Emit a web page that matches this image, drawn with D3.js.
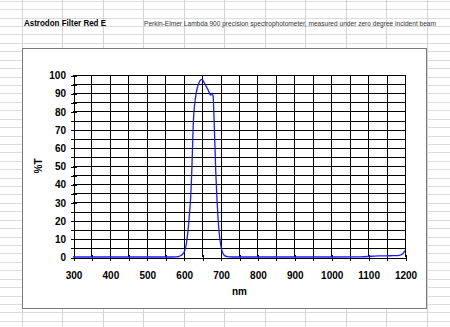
<!DOCTYPE html>
<html>
<head>
<meta charset="utf-8">
<script src="https://cdn.jsdelivr.net/npm/d3@7"></script>
<style>
  body { margin: 0; background: #fff; }
  svg { display: block; }
</style>
</head>
<body>
<svg id="chart"></svg>
<script>
// transmission curve (nm, %T)
var wavelengths = [300, 400, 500, 560, 580, 588, 594, 599, 603, 607, 611, 615, 619, 622, 624, 626, 628, 631, 634, 637, 641, 645, 649, 652, 655, 659, 663, 667, 671, 674, 677, 680, 682, 684, 687, 690, 693, 696, 699, 703, 707, 712, 718, 730, 760, 800, 900, 1000, 1080, 1110, 1130, 1160, 1180, 1188, 1194, 1200];
var transmission = [0, 0, 0, 0, 0.1, 0.4, 1, 2, 3.5, 7, 13, 22, 33, 47, 60, 73, 80, 86, 90, 93, 95.5, 97, 97.6, 97, 96, 94.5, 93, 91.5, 89.5, 89, 90, 88, 78, 66, 47, 33, 22, 14, 8.5, 4, 1.8, 0.6, 0.2, 0, 0, 0, 0, 0, 0.1, 0.4, 0.6, 0.7, 0.8, 1.1, 1.8, 3.5];
var xTicks = [300, 400, 500, 600, 700, 800, 900, 1000, 1100, 1200];
var yTicks = [0, 10, 20, 30, 40, 50, 60, 70, 80, 90, 100];

var title = "Astrodon Filter Red E";
var subtitle = "Perkin-Elmer Lambda 900 precision spectrophotometer, measured under zero degree incident beam";

var W = 450, H = 327;
var svg = d3.select("#chart").attr("width", W).attr("height", H);

// spreadsheet cells behind the chart
var sheet = svg.append("g").attr("shape-rendering", "crispEdges");
sheet.selectAll("line.row")
    .data(d3.range(0.8, H, 8.42))
    .join("line")
    .attr("x1", 0).attr("x2", W)
    .attr("y1", d => Math.round(d) + 0.5).attr("y2", d => Math.round(d) + 0.5)
    .attr("stroke", "#dcdcdc");
sheet.selectAll("line.col")
    .data(d3.range(22, W, 40.45))
    .join("line")
    .attr("y1", 0).attr("y2", H)
    .attr("x1", d => Math.round(d) + 0.5).attr("x2", d => Math.round(d) + 0.5)
    .attr("stroke", "#d4d4d4");

var font = "'Liberation Sans', Arial, sans-serif";

svg.append("text")
    .attr("x", 24).attr("y", 26)
    .attr("font-family", font).attr("font-weight", "bold").attr("font-size", 8.5)
    .attr("fill", "#000")
    .attr("textLength", 82).attr("lengthAdjust", "spacingAndGlyphs")
    .text(title);

svg.append("text")
    .attr("x", 144).attr("y", 26)
    .attr("font-family", font).attr("font-size", 6.6)
    .attr("fill", "#333")
    .attr("textLength", 292).attr("lengthAdjust", "spacingAndGlyphs")
    .text(subtitle);

// chart box
svg.append("rect")
    .attr("x", 22.5).attr("y", 48.5).attr("width", 404).attr("height", 260)
    .attr("fill", "#fff").attr("stroke", "#7a7a7a").attr("stroke-width", 1);

var plot = { left: 73, right: 405, top: 75, bottom: 257 };

var x = d3.scaleLinear().domain([300, 1200]).range([plot.left, plot.right]);
var y = d3.scaleLinear().domain([0, 100]).range([plot.bottom, plot.top]);

var grid = svg.append("g").attr("shape-rendering", "crispEdges");
grid.selectAll("line.v")
    .data(d3.range(350, 1201, 50))
    .join("line")
    .attr("x1", d => Math.round(x(d)) + 0.5).attr("x2", d => Math.round(x(d)) + 0.5)
    .attr("y1", plot.top).attr("y2", plot.bottom)
    .attr("stroke", "#000");
grid.selectAll("line.h")
    .data(d3.range(5, 101, 5))
    .join("line")
    .attr("y1", d => Math.round(y(d)) + 0.5).attr("y2", d => Math.round(y(d)) + 0.5)
    .attr("x1", plot.left).attr("x2", plot.right)
    .attr("stroke", "#000");

// axes with crossing tick marks
var yAxis = svg.append("g")
    .attr("transform", "translate(" + (plot.left + 0.5) + ",0.5)")
    .call(d3.axisLeft(y).tickValues(d3.range(0, 101, 5)).tickSizeInner(3).tickSizeOuter(0).tickPadding(4.5)
        .tickFormat(d => yTicks.includes(d) ? d : ""));
yAxis.selectAll(".tick line").attr("x1", 3);

var xAxis = svg.append("g")
    .attr("transform", "translate(0.5," + (plot.bottom + 0.5) + ")")
    .call(d3.axisBottom(x).tickValues(d3.range(300, 1201, 50)).tickSizeInner(3).tickSizeOuter(0).tickPadding(11)
        .tickFormat(d => xTicks.includes(d) ? d : ""));
xAxis.selectAll(".tick line").attr("y1", -3);

[xAxis, yAxis].forEach(function (a) {
    a.attr("shape-rendering", "crispEdges");
    a.select(".domain").attr("stroke", "#000");
    a.selectAll(".tick line").attr("stroke", "#000");
    a.selectAll("text")
        .attr("font-family", font).attr("font-weight", "bold").attr("font-size", 10)
        .attr("fill", "#000");
});

svg.append("text")
    .attr("x", (plot.left + plot.right) / 2 + 0.5).attr("y", 295)
    .attr("text-anchor", "middle")
    .attr("font-family", font).attr("font-weight", "bold").attr("font-size", 10)
    .text("nm");

svg.append("text")
    .attr("transform", "translate(41.5," + (plot.top + plot.bottom) / 2 + ") rotate(-90)")
    .attr("text-anchor", "middle")
    .attr("font-family", font).attr("font-weight", "bold").attr("font-size", 10)
    .text("%T");

var pts = wavelengths.map((w, i) => [w, transmission[i]]);
var line = d3.line()
    .x(d => x(d[0]))
    .y(d => y(d[1]))
    .curve(d3.curveMonotoneX);

svg.append("path")
    .datum(pts)
    .attr("d", line)
    .attr("fill", "none")
    .attr("stroke", "#1a1aff")
    .attr("stroke-width", 1.3);
</script>
</body>
</html>
